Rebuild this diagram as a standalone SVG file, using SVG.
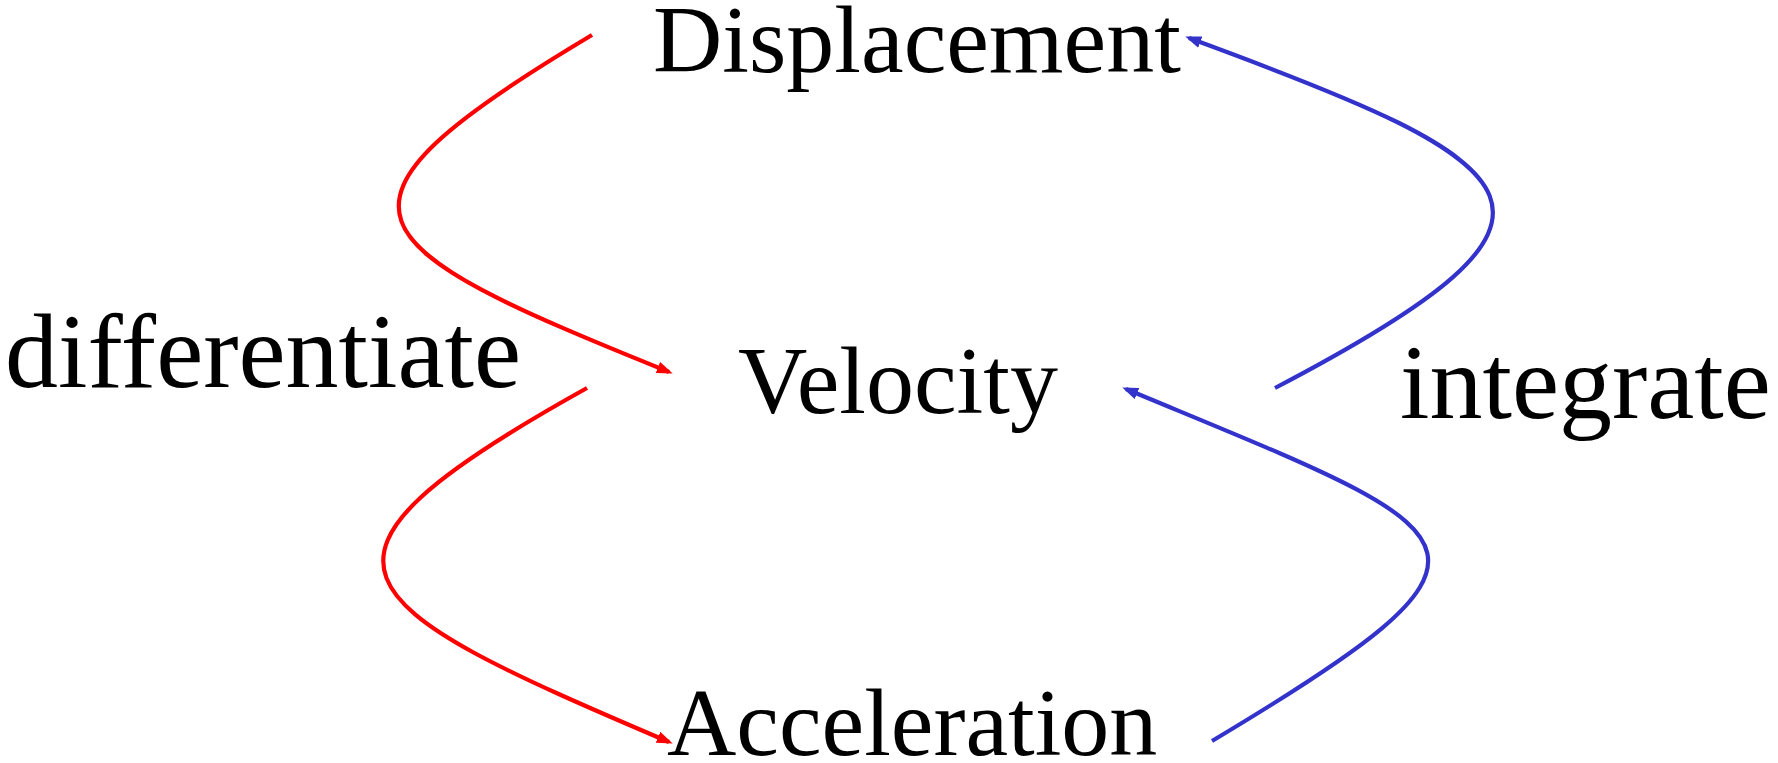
<svg xmlns="http://www.w3.org/2000/svg" width="1778" height="763" viewBox="0 0 1778 763">
<style>
text{font-family:"Liberation Serif","Times New Roman",serif;fill:#000}
.n{font-size:96px}
.l{font-size:106px}
.c{fill:none;stroke-width:4.2}
.red{stroke:#FF0000}
.blue{stroke:#3333CC}
</style>
<defs>
<marker id="ar" viewBox="0 0 16 12" refX="12" refY="6" markerWidth="16" markerHeight="12" markerUnits="userSpaceOnUse" orient="auto"><path d="M0,0 L16,6 L0,12 z" fill="#FF0000"/></marker>
<marker id="ab" viewBox="0 0 16 12" refX="12" refY="6" markerWidth="16" markerHeight="12" markerUnits="userSpaceOnUse" orient="auto"><path d="M0,0 L16,6 L0,12 z" fill="#3333CC"/></marker>
</defs>
<rect width="1778" height="763" fill="#fff"/>
<g id="displacement"><text class="n" x="653" y="72">Displacement</text></g>
<g id="velocity"><text class="n" x="738" y="413">Velocity</text></g>
<g id="acceleration"><text class="n" x="667" y="755">Acceleration</text></g>
<g id="differentiate"><text class="l" x="5" y="387">differentiate</text></g>
<g id="integrate"><text class="l" x="1400" y="418">integrate</text></g>
<g id="connectors">
<path class="c red" d="M592,35 C298,210 352,244 669,372" marker-end="url(#ar)"/>
<path class="c red" d="M587,388 C272,563 340,602 669,742" marker-end="url(#ar)"/>
<path class="c blue" d="M1275,388 C1610,213 1541,167 1189,38" marker-end="url(#ab)"/>
<path class="c blue" d="M1212,741 C1542,544 1479,536 1126,389" marker-end="url(#ab)"/>
</g>
</svg>
